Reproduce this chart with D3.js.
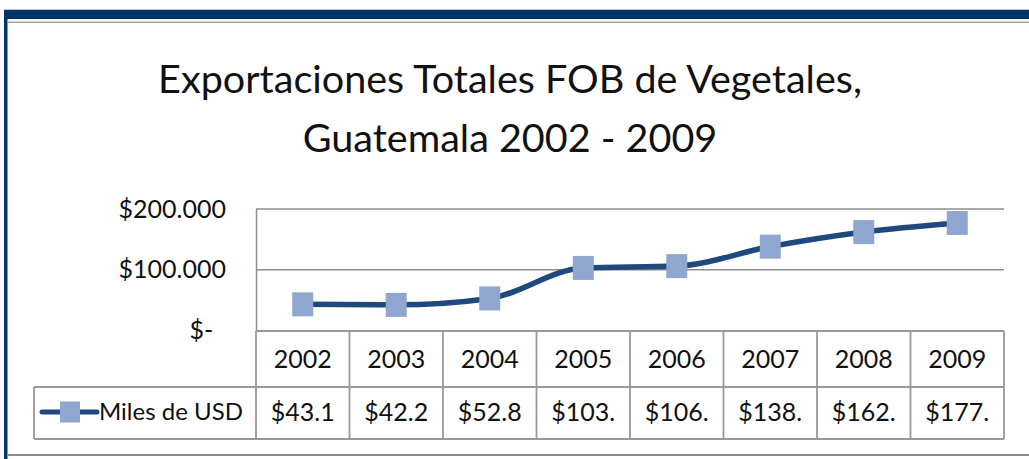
<!DOCTYPE html>
<html>
<head>
<meta charset="utf-8">
<script src="https://cdn.jsdelivr.net/npm/d3@7"></script>
<style>
  body { margin: 0; background: #fff; }
  text { font-family: Lato, "Open Sans", sans-serif; fill: #111; }
</style>
</head>
<body>
<div id="chart"></div>
<script>
// data
var years = ['2002', '2003', '2004', '2005', '2006', '2007', '2008', '2009'];
var values = [43100, 42200, 52800, 103000, 106000, 138000, 162000, 177000];
var cellLabels = ['$43.1', '$42.2', '$52.8', '$103.', '$106.', '$138.', '$162.', '$177.'];
var yTicks = [0, 100000, 200000];
var yTickLabels = ['$-\u00a0\u00a0', '$100.000', '$200.000'];
var seriesName = 'Miles de USD';
var titleLines = ['Exportaciones Totales FOB de Vegetales,', 'Guatemala 2002 - 2009'];

var width = 1029, height = 459;
var svg = d3.select('#chart').append('svg')
	.attr('width', width).attr('height', height);

var navy = '#003366', lineCol = '#1f497d', markCol = '#8fa6d0', gridCol = '#8c8c8c';

// frame
svg.append('rect').attr('x', 4).attr('y', 9).attr('width', width).attr('height', 1).attr('fill', '#b7c6d6');
svg.append('rect').attr('x', 4).attr('y', 10).attr('width', width).attr('height', 9).attr('fill', navy);
svg.append('rect').attr('x', 4).attr('y', 10).attr('width', 3.5).attr('height', height).attr('fill', navy);
svg.append('rect').attr('x', 7.5).attr('y', 21.5).attr('width', width).attr('height', 1.5).attr('fill', '#a6a6a6');
svg.append('rect').attr('x', 7.5).attr('y', 454).attr('width', width).attr('height', 2).attr('fill', '#8c8c8c');

// title
var title = svg.append('g');
title.selectAll('text')
	.data(titleLines)
	.enter()
	.append('text')
	.attr('x', 510)
	.attr('y', function(d, i) { return i == 0 ? 93 : 152 })
	.attr('text-anchor', 'middle')
	.style('font-size', '40px')
	.text(function(d) { return d });
// fit first line to the reference width
var w0 = title.select('text').node().getComputedTextLength();
title.selectAll('text').style('font-size', (40 * 704 / w0) + 'px');

// scales
var x = d3.scaleBand().domain(years).range([256, 1004]);
var y = d3.scaleLinear().domain([0, 200000]).range([330.5, 209]);

// gridlines
svg.selectAll('.grid')
	.data(yTicks.slice(1))
	.enter()
	.append('line')
	.attr('class', 'grid')
	.attr('x1', 256).attr('x2', 1004)
	.attr('y1', function(d) { return y(d) })
	.attr('y2', function(d) { return y(d) })
	.attr('stroke', gridCol).attr('stroke-width', 1.5);

// y axis
var yAxis = d3.axisLeft(y)
	.tickValues(yTicks)
	.tickSize(0)
	.tickPadding(30)
	.tickFormat(function(d, i) { return yTickLabels[i] });
var ya = svg.append('g').attr('transform', 'translate(256,0)').call(yAxis);
ya.select('.domain').attr('stroke', gridCol).attr('stroke-width', 1.5);
ya.selectAll('text').style('font-size', '25px').attr('fill', '#111')
	.style('font-family', 'Lato, sans-serif');

// data table
var tTop = 331, tMid = 387, tBot = 439, legLeft = 34;
var table = svg.append('g').attr('stroke', '#999').attr('stroke-width', 1.8).attr('fill', 'none');
table.append('line').attr('x1', 256).attr('x2', 1004).attr('y1', tTop).attr('y2', tTop);
table.append('line').attr('x1', legLeft).attr('x2', 1004).attr('y1', tMid).attr('y2', tMid);
table.append('line').attr('x1', legLeft).attr('x2', 1004).attr('y1', tBot).attr('y2', tBot);
table.append('line').attr('x1', legLeft).attr('x2', legLeft).attr('y1', tMid).attr('y2', tBot);
table.selectAll('.col')
	.data(years.concat(['end']))
	.enter()
	.append('line')
	.attr('x1', function(d, i) { return i < years.length ? x(d) : x.range()[1] })
	.attr('x2', function(d, i) { return i < years.length ? x(d) : x.range()[1] })
	.attr('y1', tTop).attr('y2', tBot);

svg.selectAll('.yr')
	.data(years)
	.enter()
	.append('text')
	.attr('x', function(d) { return x(d) + x.bandwidth() / 2 })
	.attr('y', 368)
	.attr('text-anchor', 'middle')
	.style('font-size', '25px')
	.text(function(d) { return d });

svg.selectAll('.cell')
	.data(cellLabels)
	.enter()
	.append('text')
	.attr('x', function(d, i) { return x(years[i]) + x.bandwidth() / 2 })
	.attr('y', 421)
	.attr('text-anchor', 'middle')
	.style('font-size', '25px')
	.text(function(d) { return d });

// legend key
svg.append('line')
	.attr('x1', 42).attr('x2', 97).attr('y1', 412).attr('y2', 412)
	.attr('stroke', lineCol).attr('stroke-width', 5).attr('stroke-linecap', 'round');
svg.append('rect')
	.attr('x', 60).attr('y', 401.5).attr('width', 20).attr('height', 21)
	.attr('fill', markCol);
svg.append('text')
	.attr('x', 99).attr('y', 420)
	.style('font-size', '24px')
	.text(seriesName);

// line + markers
var line = d3.line()
	.x(function(d, i) { return x(years[i]) + x.bandwidth() / 2 })
	.y(function(d) { return y(d) })
	.curve(d3.curveMonotoneX);

svg.append('path')
	.datum(values)
	.attr('d', line)
	.attr('fill', 'none')
	.attr('stroke', lineCol)
	.attr('stroke-width', 5.5);

svg.selectAll('.mark')
	.data(values)
	.enter()
	.append('rect')
	.attr('x', function(d, i) { return x(years[i]) + x.bandwidth() / 2 - 10.5 })
	.attr('y', function(d) { return y(d) - 12 })
	.attr('width', 21)
	.attr('height', 24)
	.attr('fill', markCol);
</script>
</body>
</html>
